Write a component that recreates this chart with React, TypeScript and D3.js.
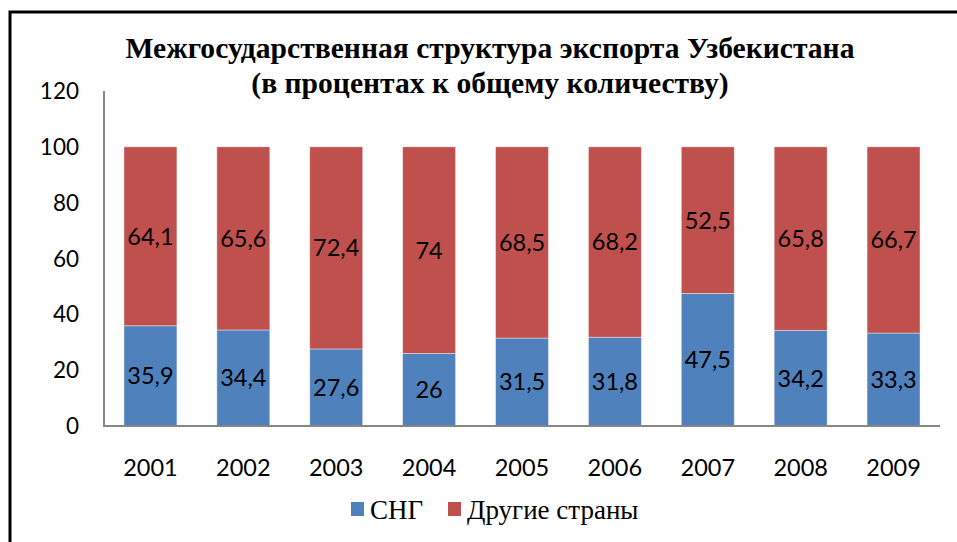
import React from 'react'
import * as d3 from 'd3'

// Межгосударственная структура экспорта Узбекистана, %
const YEARS = ['2001', '2002', '2003', '2004', '2005', '2006', '2007', '2008', '2009']
const CIS = [35.9, 34.4, 27.6, 26, 31.5, 31.8, 47.5, 34.2, 33.3]
const OTHER = [64.1, 65.6, 72.4, 74, 68.5, 68.2, 52.5, 65.8, 66.7]
const Y_TICKS = [0, 20, 40, 60, 80, 100, 120]
const SERIES_NAMES = ['СНГ', 'Другие страны']
const TITLE_LINES = [
  'Межгосударственная структура экспорта Узбекистана',
  '(в процентах к общему количеству)',
]

const W = 957
const H = 542
const COLORS = ['#4F81BD', '#C0504D']
const SANS = 'Lato, "Open Sans", sans-serif'
const SERIF = '"Liberation Serif", "Times New Roman", serif'

const fmt = (v: number) => String(v).replace('.', ',')

export default function App() {
  const x = d3.scaleBand<string>().domain(YEARS).range([104, 940]).paddingInner(0.43).paddingOuter(0.215)
  const y = d3.scaleLinear().domain([0, 120]).range([426, 91])

  const rows = YEARS.map((year, i) => ({ year, cis: CIS[i], other: OTHER[i] }))
  const stacked = d3.stack<any>().keys(['cis', 'other'])(rows)

  return (
    <svg width={W} height={H} style={{ position: 'absolute', left: 0, top: 0, background: '#fff' }}>
      {/* outer frame, runs off the right and bottom edges */}
      <rect x={10} y={12} width={W + 10} height={H + 10} fill="none" stroke="#000" strokeWidth={3} />

      {TITLE_LINES.map((t, i) => (
        <text key={i} x={490} y={58 + i * 35} textAnchor="middle" fontFamily={SERIF}
          fontWeight="bold" fontSize={29.6} fill="#000">{t}</text>
      ))}

      {Y_TICKS.map(t => (
        <text key={t} x={79} y={y(t)} dy="0.36em" textAnchor="end" fontFamily={SANS}
          fontSize={22.5} fill="#000">{t}</text>
      ))}

      {stacked.map((layer, si) => (
        <g key={si} fill={COLORS[si]}>
          {layer.map((d, i) => (
            <rect key={i} x={x(YEARS[i])} y={y(d[1])} width={x.bandwidth()}
              height={y(d[0]) - y(d[1])} stroke="#fff" strokeOpacity={0.5} strokeWidth={0.8} />
          ))}
        </g>
      ))}

      {stacked.map((layer, si) => (
        <g key={'l' + si}>
          {layer.map((d, i) => (
            <text key={i} x={(x(YEARS[i]) as number) + x.bandwidth() / 2} y={y((d[0] + d[1]) / 2)}
              dy="0.36em" textAnchor="middle" fontFamily={SANS} fontSize={23.5} fill="#000">
              {fmt(si === 0 ? CIS[i] : OTHER[i])}
            </text>
          ))}
        </g>
      ))}

      <line x1={104} x2={104} y1={y(120)} y2={y(0) + 1} stroke="#868686" strokeWidth={2} />
      <line x1={103} x2={940} y1={y(0)} y2={y(0)} stroke="#868686" strokeWidth={2} />

      {YEARS.map(yr => (
        <text key={yr} x={(x(yr) as number) + x.bandwidth() / 2} y={468} dy="0.36em"
          textAnchor="middle" fontFamily={SANS} fontSize={23.5} fill="#000">{yr}</text>
      ))}

      <rect x={351} y={502} width={13} height={14} fill={COLORS[0]} />
      <text x={370} y={519} fontFamily={SERIF} fontSize={27} fill="#000">{SERIES_NAMES[0]}</text>
      <rect x={448} y={502} width={13} height={14} fill={COLORS[1]} />
      <text x={467} y={519} fontFamily={SERIF} fontSize={27} fill="#000">{SERIES_NAMES[1]}</text>
    </svg>
  )
}
